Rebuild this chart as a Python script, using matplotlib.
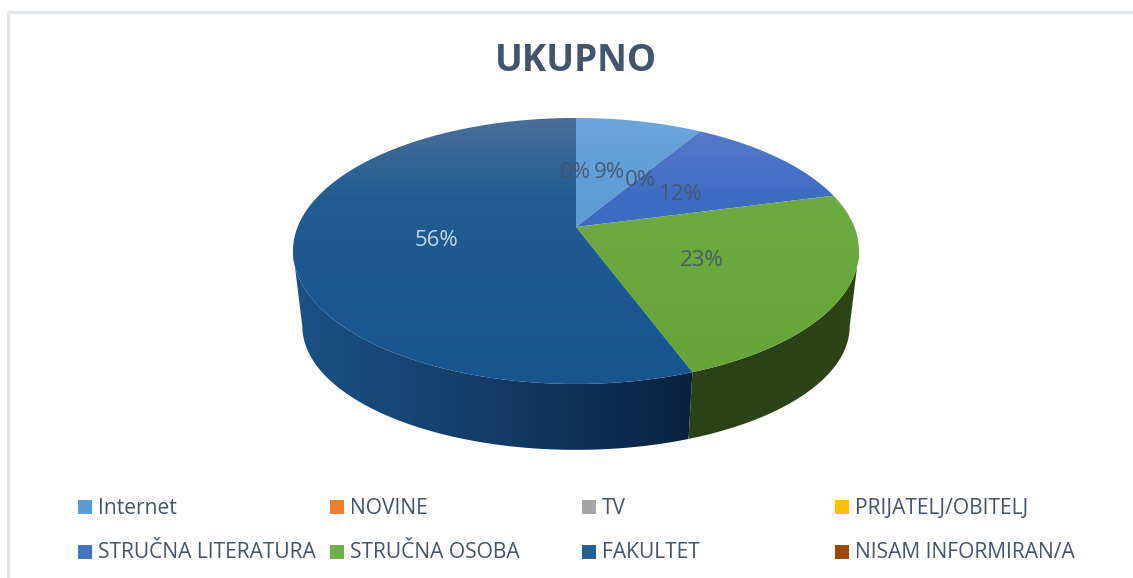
import numpy as np
import matplotlib
matplotlib.use("Agg")
import matplotlib.pyplot as plt
from matplotlib.colors import LinearSegmentedColormap
from matplotlib.patches import Polygon, Rectangle

plt.rcParams['font.family'] = ['Open Sans', 'DejaVu Sans']

title = "UKUPNO"
categories = ["Internet", "NOVINE", "TV", "PRIJATELJ/OBITELJ",
              "STRUČNA LITERATURA", "STRUČNA OSOBA", "FAKULTET", "NISAM INFORMIRAN/A"]
# slices clockwise from the top
values = [8.6, 0, 0, 0, 12.3, 23.45, 55.65, 0]
legend_colors = ["#5B9BD5", "#ED7D31", "#A5A5A5", "#FFC000",
                 "#4472C4", "#70AD47", "#255E91", "#9E480E"]
# top face colours: far edge, middle, near edge
top_colors = {
    "Internet": ["#6BA5DC", "#5E9DD6", "#5898D2"],
    "STRUČNA LITERATURA": ["#5A7CC9", "#3E6CC3", "#3767BF"],
    "STRUČNA OSOBA": ["#80B860", "#6DAB42", "#65A438"],
    "FAKULTET": ["#4A6F99", "#215C92", "#18548E"],
}
# side wall colours: left to right
wall_colors = {
    "STRUČNA OSOBA": ["#2C4318", "#2B4116", "#2E4517"],
    "FAKULTET": ["#1B5186", "#133C66", "#0A2240"],
}
label_xy = {0: (609, 173), 1: (575, 172), 2: (640, 181), 4: (681, 195),
            5: (702, 261), 6: (437, 240)}

fig = plt.figure(figsize=(11.33, 5.78), dpi=100)
ax = fig.add_axes([0, 0, 1, 1])

# perspective ellipse of the pie
cx, cy = 576, 227
a, d, k = 278.4, 128.7, -0.18


def rim(theta, s=1.0, sy=1.0, dz=0.0):
    denom = 1 - k * np.cos(theta)
    x = a * np.sin(theta) / denom
    y = d * np.cos(theta) / denom
    return cx + s * x, cy - sy * y + dz


def fill(poly_xy, colors, horizontal=False):
    poly = Polygon(poly_xy, closed=True, transform=ax.transData, fc='none', ec='none')
    ax.add_patch(poly)
    xs, ys = poly_xy[:, 0], poly_xy[:, 1]
    if horizontal:
        cmap = LinearSegmentedColormap.from_list("c", colors)
        grad = np.linspace(0, 1, 256).reshape(1, -1)
        ext = (xs.min(), xs.max(), ys.max(), ys.min())
    else:
        # whole pie height so all slices share the same shading
        cmap = LinearSegmentedColormap.from_list("c", list(zip([0, 0.3, 1], colors)))
        grad = np.linspace(0, 1, 256).reshape(-1, 1)
        ext = (xs.min(), xs.max(), 384, 118)
    im = ax.imshow(grad, cmap=cmap, extent=ext, aspect='auto', interpolation='bilinear', zorder=2)
    im.set_clip_path(poly)


frac = np.cumsum([0] + values) / sum(values) * 2 * np.pi
vis_start, vis_end = np.radians(100.4), np.radians(259.6)

# side walls
for i, name in enumerate(categories):
    if name not in wall_colors:
        continue
    t0, t1 = max(frac[i], vis_start), min(frac[i + 1], vis_end)
    th = np.linspace(t0, t1, 120)
    upper = np.column_stack(rim(th))
    lower = np.column_stack(rim(th[::-1], s=0.967, sy=0.93, dz=76.9))
    fill(np.vstack([upper, lower]), wall_colors[name], horizontal=True)

# top face
for i, name in enumerate(categories):
    if values[i] == 0:
        continue
    th = np.linspace(frac[i], frac[i + 1], 200)
    arc = np.column_stack(rim(th))
    fill(np.vstack([[cx, cy], arc]), top_colors[name])

# data labels
for i, (x, y) in label_xy.items():
    col = "#D5E1EE" if categories[i] == "FAKULTET" else "#44546A"
    ax.text(x, y, f"{round(values[i])}%", color=col, fontsize=16,
            ha='center', va='center', zorder=5, alpha=0.9)

ax.text(576, 61, title, color="#44546A", fontsize=26.5, fontweight='bold',
        ha='center', va='center', zorder=5)

# legend, two rows of four
col_x = [78, 330, 582, 835]
row_y = [507, 552]
for i, name in enumerate(categories):
    x, y = col_x[i % 4], row_y[i // 4]
    ax.add_patch(Rectangle((x, y - 7), 14, 14, fc=legend_colors[i], ec='none', zorder=5))
    ax.text(x + 20, y + 1, name, color="#44546A", fontsize=15.1, ha='left', va='center', zorder=5)

# chart frame
ax.plot([7.5, 7.5, 1133], [578, 11.5, 11.5], color="#E1E5EC", lw=2.2, zorder=1)

ax.set_xlim(0, 1133)
ax.set_ylim(578, 0)
ax.axis('off')
fig.savefig("out.png", dpi=100, facecolor='white')
